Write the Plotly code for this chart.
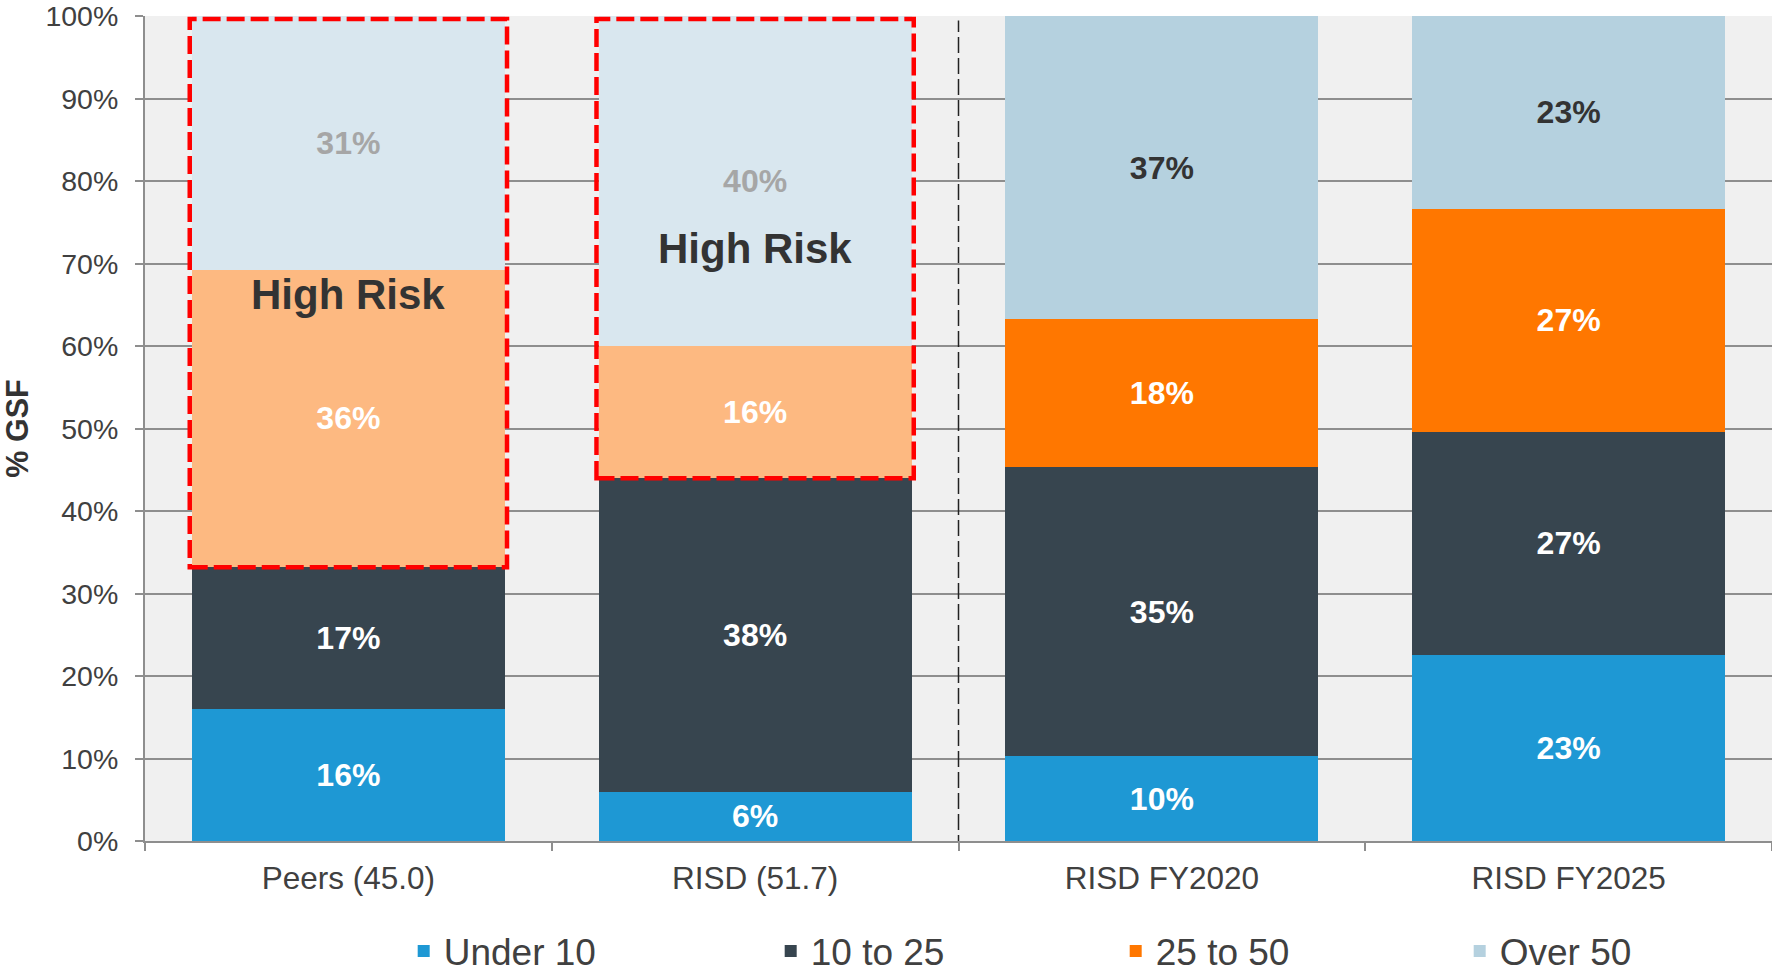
import plotly.graph_objects as go

categories = ["Peers (45.0)", "RISD (51.7)", "RISD FY2020", "RISD FY2025"]
series_names = ["Under 10", "10 to 25", "25 to 50", "Over 50"]
under_10 = [16.0, 6.0, 10.3, 22.6]
ten_to_25 = [17.2, 38.0, 35.0, 27.0]
twentyfive_to_50 = [36.1, 16.0, 18.0, 27.1]
over_50 = [30.7, 40.0, 36.7, 23.3]
tick_vals = [0, 10, 20, 30, 40, 50, 60, 70, 80, 90, 100]
tick_labels = [f"{v}%" for v in tick_vals]
high_risk_cats = ["Peers (45.0)", "RISD (51.7)"]
high_risk_label_y = [66.3, 71.8]

FONT = "Liberation Sans, Arial, sans-serif"
C_UNDER = "#1E98D4"
C_MID = "#37454F"
C_ORANGE = "#FF7700"
C_ORANGE_FADED = "#FDB981"
C_OVER = "#B5D1DF"
C_OVER_FADED = "#D9E7EF"

faded_idx = [categories.index(c) for c in high_risk_cats]
strong_idx = [i for i in range(len(categories)) if i not in faded_idx]


def pick(vals, idx):
    return [vals[i] for i in idx]


label_font = dict(family=FONT, size=32, weight="bold")
# (name, x, y, colour, text colour, show in legend, legend width)
trace_specs = [
    ("Under 10", categories, under_10, C_UNDER, "white", True, 322),
    ("10 to 25", categories, ten_to_25, C_MID, "white", True, 300),
    ("25 to 50", pick(categories, faded_idx), pick(twentyfive_to_50, faded_idx),
     C_ORANGE_FADED, "white", False, None),
    ("25 to 50", pick(categories, strong_idx), pick(twentyfive_to_50, strong_idx),
     C_ORANGE, "white", True, 299),
    ("Over 50", pick(categories, faded_idx), pick(over_50, faded_idx),
     C_OVER_FADED, "#A6A6A6", False, None),
    ("Over 50", pick(categories, strong_idx), pick(over_50, strong_idx),
     C_OVER, "#333333", True, 150),
]

fig = go.Figure()
for name, xs, ys, col, tcol, show, lw in trace_specs:
    kw = {}
    if lw:
        kw["legendwidth"] = lw
    fig.add_trace(go.Bar(
        name=name, x=xs, y=ys,
        legendgroup=name, showlegend=show,
        marker=dict(color=col, line=dict(width=0)),
        texttemplate="%{y:.0f}%",
        textposition="inside",
        insidetextanchor="middle",
        textangle=0,
        constraintext="none",
        textfont=dict(color=tcol, **label_font),
        hoverinfo="skip",
        **kw,
    ))

# Red dashed "High Risk" boxes around the first two bars
half = 0.39
for i, cat in enumerate(high_risk_cats):
    idx = categories.index(cat)
    y0 = under_10[idx] + ten_to_25[idx]
    fig.add_shape(type="rect", xref="x", yref="y",
                  x0=idx - half, x1=idx + half, y0=y0, y1=99.7,
                  line=dict(color="#FF0000", width=4.5, dash="18px,6px"),
                  fillcolor="rgba(0,0,0,0)", layer="above")
    fig.add_annotation(x=cat, y=high_risk_label_y[i], text="<b>High Risk</b>",
                       showarrow=False,
                       font=dict(family=FONT, size=42, color="#333333"))

# Vertical dashed separator between current and projected
fig.add_shape(type="line", xref="x", yref="y", x0=1.5, x1=1.5, y0=-1.2, y1=99.5,
              line=dict(color="#222222", width=1.5, dash="16px,5px"), layer="above")

fig.update_layout(
    width=1772, height=976,
    barmode="stack", bargap=0.23,
    paper_bgcolor="white", plot_bgcolor="#F0F0F0",
    margin=dict(l=145, r=0, t=16, b=135, autoexpand=False),
    font=dict(family=FONT, color="#404040"),
    showlegend=True,
    legend=dict(orientation="h", x=0.159, y=-0.1715, xanchor="left", yanchor="bottom",
                traceorder="normal",
                font=dict(family=FONT, size=37, color="#404040"),
                bgcolor="rgba(0,0,0,0)"),
)
fig.update_yaxes(
    range=[0, 100.05], tickvals=tick_vals, ticktext=tick_labels,
    tickfont=dict(family=FONT, size=28.5, color="#404040"),
    ticklabeloverflow="allow",
    showgrid=True, gridcolor="#8E8E8E", gridwidth=2,
    showline=True, linecolor="#8E8E8E", linewidth=2,
    ticks="outside", ticklen=8, tickcolor="#8E8E8E", tickwidth=2,
    ticklabelstandoff=11, zeroline=False,
    title=dict(text="<b>% GSF</b>", font=dict(family=FONT, size=30.5, color="#333333"), standoff=22),
)
fig.update_xaxes(
    showline=True, linecolor="#8E8E8E", linewidth=2,
    ticks="outside", tickson="boundaries", ticklen=8, tickcolor="#8E8E8E", tickwidth=2,
    tickfont=dict(family=FONT, size=31.5, color="#404040"),
    ticklabelstandoff=8,
)

fig.write_html("out.html")
